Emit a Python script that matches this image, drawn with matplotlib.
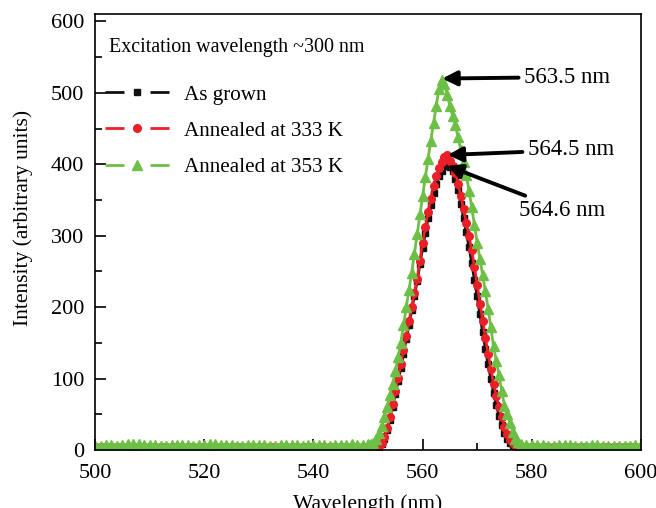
import numpy as np
import matplotlib.pyplot as plt
from matplotlib.lines import Line2D
from matplotlib.ticker import MultipleLocator

plt.rcParams['font.family'] = ['Liberation Serif', 'DejaVu Serif']

# wavelength grid (nm): 1 nm on the flat parts, 0.5 nm across the peak
wavelength = np.concatenate([np.arange(500, 550), np.arange(550, 578.5, 0.5),
                             np.arange(579, 601)])

# intensity (arbitrary units)
as_grown = (
    [5] * 50
    + [5, 5, 5, 5, 5, 9, 16, 28, 42, 60, 78, 96, 115, 135, 155, 175, 196, 216,
       236, 260, 283, 304, 325, 343, 360, 372, 383, 391, 398, 400, 396, 390,
       380, 364, 345, 325, 305, 284, 262, 238, 215, 190, 165, 142, 120, 100,
       80, 63, 48, 35, 24, 16, 10, 7, 6, 5, 5]
    + [5] * 22
)
annealed_333 = (
    [5] * 50
    + [5, 5, 5, 5, 6, 10, 18, 31, 46, 64, 82, 101, 120, 140, 160, 180, 200, 220,
       240, 265, 290, 312, 333, 352, 370, 383, 395, 403, 410, 413, 405, 398,
       388, 373, 356, 337, 318, 299, 280, 256, 231, 205, 180, 157, 135, 114,
       93, 76, 60, 46, 33, 23, 14, 10, 7, 6, 6]
    + [5] * 22
)
annealed_353 = (
    [6, 6, 7, 7, 6, 7, 8, 8, 8, 7, 7, 7, 6, 6, 7, 7, 7, 7, 6, 7,
     7, 8, 8, 7, 7, 7, 6, 6, 7, 7, 7, 7, 6, 6, 7, 7, 7, 7, 6, 7,
     7, 7, 7, 6, 7, 7, 7, 8, 7, 7]
    + [8, 9, 10, 16, 24, 34, 46, 60, 77, 93, 110, 130, 150, 175, 200, 224, 248,
       275, 303, 330, 356, 382, 408, 433, 458, 482, 505, 518, 512, 497, 482,
       468, 455, 438, 420, 403, 385, 363, 340, 315, 290, 268, 245, 222, 198,
       172, 145, 125, 105, 83, 62, 50, 38, 26, 15, 11, 8]
    + [7, 7, 7, 7, 6, 6, 7, 7, 7, 6, 6, 6, 7, 7, 6, 6, 6, 6, 6, 6, 7, 7]
)

labels = ['As grown', 'Annealed at 333 K', 'Annealed at 353 K']
colors = ['#111111', '#ea1f28', '#6dbf45']
markers = ['s', 'o', '^']
msizes = [4.5, 5.5, 7]

fig = plt.figure(figsize=(6.56, 5.08), dpi=100)
ax = fig.add_axes([0.145, 0.114, 0.832, 0.858])

for y, c, m, ms in zip([as_grown, annealed_333, annealed_353], colors, markers, msizes):
    ax.plot(wavelength, y, color=c, lw=2, marker=m, ms=ms, mec=c, mfc=c)

ax.set_xlim(500, 600)
ax.set_ylim(0, 610)
ax.xaxis.set_major_locator(MultipleLocator(20))
ax.xaxis.set_minor_locator(MultipleLocator(10))
ax.yaxis.set_major_locator(MultipleLocator(100))
ax.yaxis.set_minor_locator(MultipleLocator(50))
ax.tick_params(which='both', direction='in', labelsize=16, width=1.2,
               top=False, right=False)
ax.tick_params(axis='y', which='major', pad=8)
ax.tick_params(axis='x', which='major', pad=10)
ax.tick_params(which='major', length=8)
ax.tick_params(which='minor', length=5)
for s in ax.spines.values():
    s.set_linewidth(1.2)

ax.set_xlabel('Wavelength (nm)', fontsize=15.5, labelpad=8)
ax.set_ylabel('Intensity (arbitrary units)', fontsize=15.5)
ax.yaxis.set_label_coords(-0.114, 0.532)

ax.text(0.025, 0.9235, 'Excitation wavelength ~300 nm', transform=ax.transAxes,
        fontsize=14.4, va='center')

handles = [Line2D([], [], color=c, lw=2, ls=(0, (6.85, 9.35)), marker=m, ms=ms)
           for c, m, ms in zip(colors, markers, msizes)]
ax.legend(handles, labels, loc='upper left', bbox_to_anchor=(-0.009, 0.872),
          frameon=False, fontsize=15.2, handlelength=3.08, handletextpad=0.67,
          labelspacing=0.78, borderaxespad=0.3)

arrow = dict(arrowstyle='-|>', lw=2.8, mutation_scale=22, color='black',
             shrinkA=2, shrinkB=0)
ax.annotate('563.5 nm', xy=(563.6, 520), xytext=(578.6, 522), fontsize=16.5,
            va='center', arrowprops=arrow)
ax.annotate('564.5 nm', xy=(564.6, 413), xytext=(579.3, 420), fontsize=16.5,
            va='center', arrowprops=arrow)
ax.annotate('564.6 nm', xy=(564.5, 398), xytext=(577.7, 336), fontsize=16.5,
            va='center', arrowprops=arrow)

fig.savefig('out.png', dpi=100)
